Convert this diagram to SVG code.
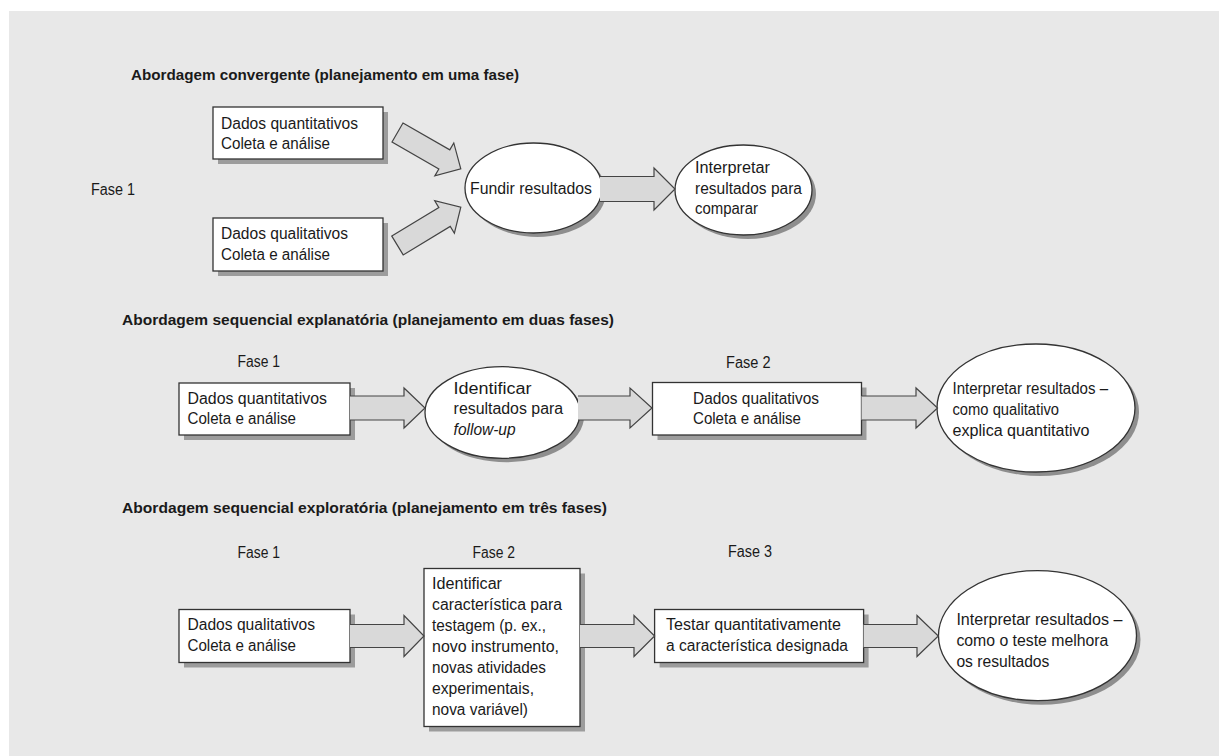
<svg xmlns="http://www.w3.org/2000/svg" width="1219" height="756" viewBox="0 0 1219 756">
<style>
.t{font-family:"Liberation Sans",Arial,sans-serif;font-size:16px;fill:#1a1a1a}
.h{font-family:"Liberation Sans",Arial,sans-serif;font-size:15px;font-weight:bold;fill:#1a1a1a}
.box{fill:#fff;stroke:#333;stroke-width:1.3}
.sh{fill:#9c9c9c}
.esh{fill:#8e8e8e}
.el{fill:#fff;stroke:#333;stroke-width:1.3}
.arr{fill:#d9d9d9;stroke:#444;stroke-width:1.2;stroke-linejoin:miter}
</style>
<rect x="9" y="11" width="1210" height="745" fill="#e8e8e8"/>

<g id="titles">
<text class="h" x="131" y="80" textLength="388" lengthAdjust="spacingAndGlyphs">Abordagem convergente (planejamento em uma fase)</text>
<text class="h" x="122" y="325" textLength="492" lengthAdjust="spacingAndGlyphs">Abordagem sequencial explanatória (planejamento em duas fases)</text>
<text class="h" x="122" y="512.5" textLength="485" lengthAdjust="spacingAndGlyphs">Abordagem sequencial exploratória (planejamento em três fases)</text>
</g>

<g id="phases">
<text class="t" x="91" y="195" textLength="44" lengthAdjust="spacingAndGlyphs">Fase 1</text>
<text class="t" x="237.5" y="366.5" textLength="42.5" lengthAdjust="spacingAndGlyphs">Fase 1</text>
<text class="t" x="726" y="367.5" textLength="44.5" lengthAdjust="spacingAndGlyphs">Fase 2</text>
<text class="t" x="237.5" y="557.5" textLength="42.5" lengthAdjust="spacingAndGlyphs">Fase 1</text>
<text class="t" x="472.5" y="557.5" textLength="42.5" lengthAdjust="spacingAndGlyphs">Fase 2</text>
<text class="t" x="728" y="556.5" textLength="44" lengthAdjust="spacingAndGlyphs">Fase 3</text>
</g>

<!-- Section 1 -->
<g id="s1-quant">
<rect class="sh" x="218" y="112" width="170" height="52"/>
<rect class="box" x="213" y="107" width="170" height="52"/>
<text class="t" x="221" y="128.5" textLength="137" lengthAdjust="spacingAndGlyphs">Dados quantitativos</text>
<text class="t" x="221" y="149" textLength="109" lengthAdjust="spacingAndGlyphs">Coleta e análise</text>
</g>
<g id="s1-qual">
<rect class="sh" x="218" y="223" width="170" height="53"/>
<rect class="box" x="213" y="218" width="170" height="53"/>
<text class="t" x="221" y="238.5" textLength="127" lengthAdjust="spacingAndGlyphs">Dados qualitativos</text>
<text class="t" x="221" y="259.5" textLength="109" lengthAdjust="spacingAndGlyphs">Coleta e análise</text>
</g>
<g id="s1-fundir">
<ellipse class="esh" cx="537.5" cy="192" rx="68.5" ry="45"/>
<ellipse class="el" cx="533.5" cy="188" rx="68.5" ry="45"/>
<text class="t" x="470" y="193.5" textLength="122" lengthAdjust="spacingAndGlyphs">Fundir resultados</text>
</g>
<g id="s1-interp">
<ellipse class="esh" cx="747.5" cy="194" rx="68.5" ry="45"/>
<ellipse class="el" cx="743.5" cy="190" rx="68.5" ry="45"/>
<text class="t" x="695" y="172.5" textLength="75" lengthAdjust="spacingAndGlyphs">Interpretar</text>
<text class="t" x="695" y="193.5" textLength="107" lengthAdjust="spacingAndGlyphs">resultados para</text>
<text class="t" x="695" y="214" textLength="63" lengthAdjust="spacingAndGlyphs">comparar</text>
</g>

<!-- Section 2 -->
<g id="s2-quant">
<rect class="sh" x="184" y="388" width="171" height="52"/>
<rect class="box" x="179" y="383" width="171" height="52"/>
<text class="t" x="187.5" y="403.5" textLength="139.5" lengthAdjust="spacingAndGlyphs">Dados quantitativos</text>
<text class="t" x="187.5" y="424" textLength="108.5" lengthAdjust="spacingAndGlyphs">Coleta e análise</text>
</g>
<g id="s2-ident">
<ellipse class="esh" cx="506.5" cy="416.5" rx="77.5" ry="45.8"/>
<ellipse class="el" cx="502.5" cy="412.5" rx="77.5" ry="45.8"/>
<text class="t" x="453.6" y="393.5" textLength="78" lengthAdjust="spacingAndGlyphs">Identificar</text>
<text class="t" x="453.6" y="414" textLength="109.5" lengthAdjust="spacingAndGlyphs">resultados para</text>
<text class="t" x="453.6" y="434.5" textLength="62" lengthAdjust="spacingAndGlyphs" font-style="italic">follow-up</text>
</g>
<g id="s2-qual">
<rect class="sh" x="657.5" y="387.5" width="209" height="52.5"/>
<rect class="box" x="652.5" y="382.5" width="209" height="52.5"/>
<text class="t" x="693" y="403.5" textLength="126" lengthAdjust="spacingAndGlyphs">Dados qualitativos</text>
<text class="t" x="693" y="424" textLength="108" lengthAdjust="spacingAndGlyphs">Coleta e análise</text>
</g>
<g id="s2-interp">
<ellipse class="esh" cx="1040" cy="412" rx="99" ry="64"/>
<ellipse class="el" cx="1036" cy="408" rx="99" ry="64"/>
<text class="t" x="952.5" y="393.5" textLength="155.5" lengthAdjust="spacingAndGlyphs">Interpretar resultados –</text>
<text class="t" x="952.5" y="414.5" textLength="106.5" lengthAdjust="spacingAndGlyphs">como qualitativo</text>
<text class="t" x="952.5" y="435.5" textLength="137" lengthAdjust="spacingAndGlyphs">explica quantitativo</text>
</g>

<!-- Section 3 -->
<g id="s3-qual">
<rect class="sh" x="184" y="614.5" width="171" height="53"/>
<rect class="box" x="179" y="609.5" width="171" height="53"/>
<text class="t" x="187.5" y="630" textLength="127.5" lengthAdjust="spacingAndGlyphs">Dados qualitativos</text>
<text class="t" x="187.5" y="650.5" textLength="108.5" lengthAdjust="spacingAndGlyphs">Coleta e análise</text>
</g>
<g id="s3-ident">
<rect class="sh" x="429" y="573.5" width="156" height="158"/>
<rect class="box" x="424" y="568.5" width="156" height="158"/>
<text class="t" x="432" y="589.3" textLength="70" lengthAdjust="spacingAndGlyphs">Identificar</text>
<text class="t" x="432" y="610.2" textLength="130" lengthAdjust="spacingAndGlyphs">característica para</text>
<text class="t" x="432" y="631.1" textLength="114" lengthAdjust="spacingAndGlyphs">testagem (p. ex.,</text>
<text class="t" x="432" y="652" textLength="127" lengthAdjust="spacingAndGlyphs">novo instrumento,</text>
<text class="t" x="432" y="673" textLength="114" lengthAdjust="spacingAndGlyphs">novas atividades</text>
<text class="t" x="432" y="694" textLength="102" lengthAdjust="spacingAndGlyphs">experimentais,</text>
<text class="t" x="432" y="715" textLength="96" lengthAdjust="spacingAndGlyphs">nova variável)</text>
</g>
<g id="s3-test">
<rect class="sh" x="659.6" y="614.5" width="209" height="53"/>
<rect class="box" x="654.6" y="609.5" width="209" height="53"/>
<text class="t" x="666" y="630" textLength="175" lengthAdjust="spacingAndGlyphs">Testar quantitativamente</text>
<text class="t" x="666" y="650.5" textLength="182" lengthAdjust="spacingAndGlyphs">a característica designada</text>
</g>
<g id="s3-interp">
<ellipse class="esh" cx="1041.5" cy="639.7" rx="99" ry="65"/>
<ellipse class="el" cx="1037.5" cy="635.7" rx="99" ry="65"/>
<text class="t" x="956.4" y="624.5" textLength="166" lengthAdjust="spacingAndGlyphs">Interpretar resultados –</text>
<text class="t" x="956.4" y="645.5" textLength="152" lengthAdjust="spacingAndGlyphs">como o teste melhora</text>
<text class="t" x="956.4" y="666.5" textLength="93" lengthAdjust="spacingAndGlyphs">os resultados</text>
</g>

<g id="connectors">
<path class="arr" transform="translate(397.5,132.5) rotate(29.9)" d="M0,-11 H54 V-19 L73,0 L54,19 V11 H0 Z"/>
<path class="arr" transform="translate(397.5,245.5) rotate(-31.2)" d="M0,-11 H55 V-19 L74,0 L55,19 V11 H0 Z"/>
<path class="arr" d="M600,176.5 H654 V168 L675,189 L654,210 V201.5 H600"/>
<path class="arr" d="M350,396 H404 V388 L425,408 L404,428 V420 H350"/>
<path class="arr" d="M578,396 H630 V388 L652,408 L630,428 V420 H578"/>
<path class="arr" d="M861.5,396 H916 V388 L937.5,408 L916,428 V420 H861.5"/>
<path class="arr" d="M350,624.5 H404 V615.5 L424,636 L404,656.5 V647.5 H350"/>
<path class="arr" d="M580,624.5 H634 V615.5 L654.6,636 L634,656.5 V647.5 H580"/>
<path class="arr" d="M863.6,624.5 H917 V615.5 L938.3,636 L917,656.5 V647.5 H863.6"/>
</g>
</svg>
